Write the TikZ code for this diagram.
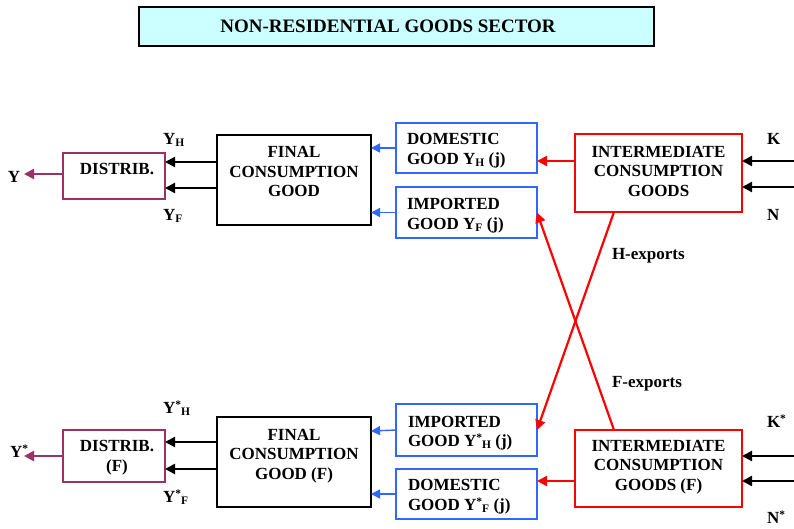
\documentclass[tikz,border=0pt]{standalone}
\usepackage{fontspec}
\setmainfont{Liberation Serif}
\usetikzlibrary{arrows.meta,calc}
\definecolor{bblue}{RGB}{51,102,255}
\definecolor{pplum}{RGB}{153,51,102}
\definecolor{rred}{RGB}{255,0,0}
\definecolor{tcyan}{RGB}{204,255,255}
\newcommand\subx[1]{\raisebox{-2pt}{\fontsize{11.5}{12}\selectfont #1}}
\newcommand\supx[1]{\raisebox{5pt}{\fontsize{11.5}{12}\selectfont #1}}
\begin{document}
\begin{tikzpicture}[x=1pt,y=-1pt,
  every node/.style={font=\fontsize{17}{19.5}\selectfont\bfseries, inner sep=0pt, outer sep=0pt},
  box/.style={draw, line width=1.3pt, inner sep=0pt, outer sep=0pt},
  ctext/.style={anchor=north, align=center},
  ltext/.style={anchor=north west, align=left},
  lab/.style={anchor=base west},
  blkarr/.style={draw=black, line width=2.2pt, -{Triangle[length=10pt,width=10pt]}},
  redarr/.style={draw=rred, line width=2.2pt, -{Triangle[length=10pt,width=10pt]}},
  bluarr/.style={draw=bblue, line width=1.4pt, -{Triangle[length=9pt,width=9pt]}},
  purarr/.style={draw=pplum, line width=2.2pt, -{Triangle[length=10pt,width=10pt]}}
]
\useasboundingbox (0,0) rectangle (794,528);

% title
\node[box, draw=black, line width=1.6pt, fill=tcyan, minimum width=515pt, minimum height=39pt] (title) at (396.5,26.5) {};
\node[anchor=north, font=\fontsize{19}{22}\selectfont\bfseries] (titlet) at (388,20) {NON-RESIDENTIAL GOODS SECTOR};

% ---------- top row ----------
\node[box, draw=pplum, minimum width=102pt, minimum height=46pt] (dist1) at (114,176) {};
\node[ctext] (dist1t) at (117,163.5) {DISTRIB.};
\node[box, draw=black, minimum width=154pt, minimum height=90pt] (fin1) at (294,180) {};
\node[ctext] (fin1t) at (294,146.7) {FINAL\\CONSUMPTION\\GOOD};
\node[box, draw=bblue, minimum width=141pt, minimum height=50pt] (dom1) at (466.5,148) {};
\node[ltext] (dom1t) at (407,133.3) {DOMESTIC\\GOOD Y\subx{H} (j)};
\node[box, draw=bblue, minimum width=141pt, minimum height=51pt] (imp1) at (466.5,212.5) {};
\node[ltext] (imp1t) at (407,198.3) {IMPORTED\\GOOD Y\subx{F} (j)};
\node[box, draw=rred, minimum width=167pt, minimum height=78pt] (int1) at (658.5,173) {};
\node[ctext] (int1t) at (658.5,146) {INTERMEDIATE\\CONSUMPTION\\GOODS};

% ---------- bottom row ----------
\node[box, draw=pplum, minimum width=102pt, minimum height=52pt] (dist2) at (114,456) {};
\node[ctext] (dist2t) at (117,440.7) {DISTRIB.\\(F)};
\node[box, draw=black, minimum width=154pt, minimum height=90pt] (fin2) at (294,462) {};
\node[ctext] (fin2t) at (294,429) {FINAL\\CONSUMPTION\\GOOD (F)};
\node[box, draw=bblue, minimum width=141pt, minimum height=52pt] (imp2) at (466.5,430) {};
\node[ltext] (imp2t) at (408,416) {IMPORTED\\GOOD Y\supx{*}\subx{H} (j)};
\node[box, draw=bblue, minimum width=141pt, minimum height=50pt] (dom2) at (466.5,494) {};
\node[ltext] (dom2t) at (408,479.3) {DOMESTIC\\GOOD Y\supx{*}\subx{F} (j)};
\node[box, draw=rred, minimum width=167pt, minimum height=77pt] (int2) at (658.5,468.5) {};
\node[ctext] (int2t) at (658.5,440) {INTERMEDIATE\\CONSUMPTION\\GOODS (F)};

% free ends
\coordinate (yend) at (24,174);
\coordinate (ysend) at (24,456);
\coordinate (k1) at (794,161);
\coordinate (n1) at (794,187);
\coordinate (k2) at (794,456);
\coordinate (n2) at (794,481);

% labels
\node[lab] (yl) at (8,182) {Y};
\node[lab] (ysl) at (10,457) {Y\supx{*}};
\node[lab] (yhl) at (163,144) {Y\subx{H}};
\node[lab] (yfl) at (163,220) {Y\subx{F}};
\node[lab] (yshl) at (163,413) {Y\supx{*}\subx{H}};
\node[lab] (ysfl) at (163,502) {Y\supx{*}\subx{F}};
\node[lab] (kl) at (767,144) {K};
\node[lab] (nl) at (767,220.7) {N};
\node[lab] (ksl) at (767,427) {K\supx{*}};
\node[lab] (nsl) at (767,523) {N\supx{*}};
\node[lab] (hexp) at (612,259) {H-exports};
\node[lab] (fexp) at (612,387) {F-exports};

% ---------- connectors top ----------
\draw[purarr] ($(dist1.west)+(0,-2)$) -- (yend);
\draw[blkarr] ($(fin1.west)+(0,-18)$) -- ($(dist1.east)+(0,-14)$);
\draw[blkarr] ($(fin1.west)+(0,8)$) -- ($(dist1.east)+(0,12)$);
\draw[bluarr] (dom1.west) -- ($(fin1.east)+(0,-32)$);
\draw[bluarr] (imp1.west) -- ($(fin1.east)+(0,32.5)$);
\draw[redarr] ($(int1.west)+(0,-12)$) -- ($(dom1.east)+(0,13)$);
\draw[blkarr] (k1) -- ($(int1.east)+(0,-12)$);
\draw[blkarr] (n1) -- ($(int1.east)+(0,14)$);

% ---------- connectors bottom ----------
\draw[purarr] (dist2.west) -- (ysend);
\draw[blkarr] ($(fin2.west)+(0,-20)$) -- ($(dist2.east)+(0,-14)$);
\draw[blkarr] ($(fin2.west)+(0,7)$) -- ($(dist2.east)+(0,13)$);
\draw[bluarr] (imp2.west) -- ($(fin2.east)+(0,-31)$);
\draw[bluarr] (dom2.west) -- ($(fin2.east)+(0,32)$);
\draw[redarr] ($(int2.west)+(0,12.5)$) -- ($(dom2.east)+(0,-13)$);
\draw[blkarr] (k2) -- ($(int2.east)+(0,-12.5)$);
\draw[blkarr] (n2) -- ($(int2.east)+(0,12.5)$);

% ---------- exports ----------
\draw[redarr] ($(int1.south west)+(39,0)$) -- (imp2.east);
\draw[redarr] ($(int2.north west)+(39,0)$) -- (imp1.east);
\end{tikzpicture}
\end{document}
